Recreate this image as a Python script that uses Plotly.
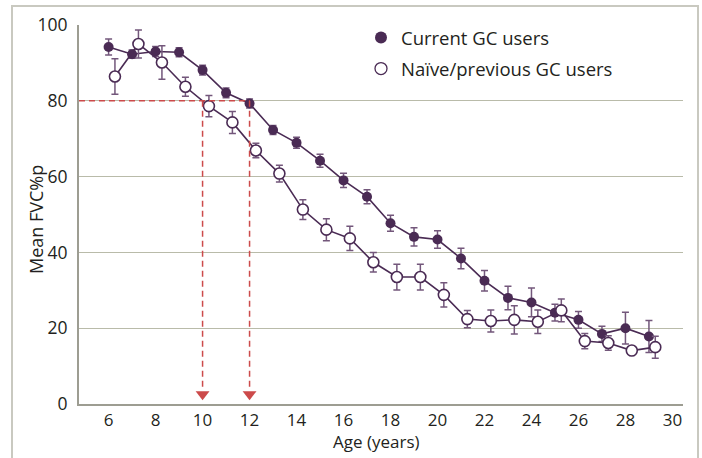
import plotly.graph_objects as go

# ---- data ----
ages = list(range(6, 30))
current_mean = [94.2, 92.3, 93.0, 92.8, 88.1, 82.1, 79.3, 72.3, 68.9, 64.2, 59.0, 54.7,
                47.7, 44.1, 43.4, 38.4, 32.5, 28.0, 26.8, 24.1, 22.2, 18.5, 20.0, 17.8]
current_err = [2.1, 1.1, 1.3, 1.2, 1.3, 1.3, 1.2, 1.2, 1.45, 1.7, 1.9, 1.85,
               2.1, 2.4, 2.3, 2.7, 2.7, 3.1, 3.8, 2.2, 2.2, 2.0, 4.2, 4.2]
naive_mean = [86.4, 95.0, 90.1, 83.7, 78.6, 74.3, 66.9, 60.8, 51.3, 46.0, 43.7, 37.4,
              33.5, 33.5, 28.8, 22.4, 21.9, 22.2, 21.7, 24.7, 16.6, 16.1, 14.1, 15.0]
naive_err = [4.7, 3.7, 4.4, 2.5, 2.8, 2.9, 1.9, 2.2, 2.6, 2.9, 3.2, 2.6,
             3.4, 3.4, 3.2, 2.3, 2.9, 3.7, 3.1, 3.0, 2.0, 1.9, 0.8, 2.9]
series_names = ["Current GC users", "Naïve/previous GC users"]
threshold_fvc = 80
threshold_ages = [10, 12]
x_ticks = list(range(6, 31, 2))
y_ticks = list(range(0, 101, 20))

# ---- styling ----
PURPLE = "#4a2b54"
ERR = "#73577b"
RED = "#cc4a4a"
GRID = "#b9bba9"
AXIS = "#9d9d92"
FONT = "Open Sans"
TXT = "#231f20"
dodge = 0.27  # horizontal offset of the open series

x_min, x_max = 4.74, 30.45

fig = go.Figure()

# red reference lines
fig.add_shape(type="line", xref="x", yref="y", x0=x_min, x1=max(threshold_ages),
              y0=threshold_fvc, y1=threshold_fvc,
              line=dict(color=RED, width=1.5, dash="6px,4px"), layer="above")
for a in threshold_ages:
    fig.add_shape(type="line", xref="x", yref="y", x0=a, x1=a,
                  y0=threshold_fvc, y1=3.5,
                  line=dict(color=RED, width=1.5, dash="6px,4px"), layer="above")
fig.add_trace(go.Scatter(x=threshold_ages, y=[2.6] * len(threshold_ages), mode="markers",
                         marker=dict(symbol="triangle-down", size=12, color=RED),
                         showlegend=False, hoverinfo="skip"))

fig.add_trace(go.Scatter(
    x=ages, y=current_mean, mode="lines+markers", name=series_names[0], showlegend=False,
    line=dict(color=PURPLE, width=1.6),
    marker=dict(symbol="circle", size=10, color=PURPLE, line=dict(color=PURPLE, width=0)),
    error_y=dict(type="data", array=current_err, visible=True, color=ERR, thickness=1.5, width=3.5)))

fig.add_trace(go.Scatter(
    x=[a + dodge for a in ages], y=naive_mean, mode="lines+markers", name=series_names[1],
    showlegend=False,
    line=dict(color=PURPLE, width=1.6),
    marker=dict(symbol="circle", size=11, color="white", line=dict(color=PURPLE, width=1.6)),
    error_y=dict(type="data", array=naive_err, visible=True, color=ERR, thickness=1.5, width=3.5)))

# legend-only entries
fig.add_trace(go.Scatter(x=[None], y=[None], mode="markers", name=series_names[0],
                         legendgroup="a",
                         marker=dict(symbol="circle", size=12, color=PURPLE)))
fig.add_trace(go.Scatter(x=[None], y=[None], mode="markers", name=series_names[1],
                         legendgroup="b",
                         marker=dict(symbol="circle", size=12, color="white",
                                     line=dict(color=PURPLE, width=1.3))))

L, R, T, B = 79, 702 - 683, 25, 458 - 404
pw, ph = 702 - L - R, 458 - T - B

fig.update_layout(
    width=702, height=458,
    margin=dict(l=L, r=R, t=T, b=B),
    paper_bgcolor="white", plot_bgcolor="white",
    font=dict(family=FONT, size=17, color=TXT),
    showlegend=True,
    legend=dict(x=(381 - 20 - L) / pw, y=1.0 + 6 / ph, xanchor="left", yanchor="top",
                bgcolor="rgba(0,0,0,0)", tracegroupgap=4, traceorder="grouped",
                font=dict(family=FONT, size=18.5, color=TXT)),
    xaxis=dict(range=[x_min, x_max], tickvals=x_ticks, showgrid=False, zeroline=False,
               showline=True, linecolor=AXIS, linewidth=2, ticks="", ticklabelstandoff=0,
               tickfont=dict(size=17)),
    yaxis=dict(range=[0, 100], tickvals=y_ticks, showgrid=True, gridcolor=GRID, gridwidth=1.2,
               zeroline=False, showline=True, linecolor=AXIS, linewidth=2, ticks="",
               ticklabelstandoff=6, tickfont=dict(size=17.5)),
    annotations=[
        dict(text="Age (years)", xref="paper", yref="paper", x=(376 - L) / pw,
             y=(404 - 441) / ph, showarrow=False, xanchor="center", yanchor="middle",
             font=dict(size=17)),
        dict(text="Mean FVC%p", xref="paper", yref="paper", x=(36 - L) / pw,
             y=(404 - 220) / ph, showarrow=False, textangle=-90,
             xanchor="center", yanchor="middle", font=dict(size=18)),
    ],
)

# outer frame
fig.add_shape(type="rect", xref="paper", yref="paper",
              x0=(12 - L) / pw, x1=(698 - L) / pw, y0=(404 - 470) / ph, y1=(404 - 6) / ph,
              line=dict(color="#c9c9c0", width=2), layer="below")

fig.write_html("out.html", config={"displayModeBar": False},
               post_script="document.body.style.margin='0px';")
